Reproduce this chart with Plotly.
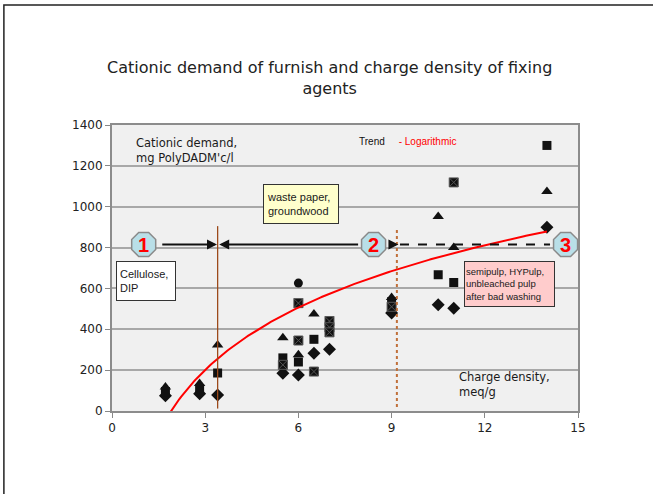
import numpy as np
import plotly.graph_objects as go

# Cationic demand of furnishes (mg PolyDADMAC/l) against charge density (meq/g)
diamond_x = [1.72, 2.82, 3.4, 5.5, 6.0, 6.5, 7.0, 9.0, 10.5, 11.0, 14.0]
diamond_y = [75, 85, 78, 185, 176, 283, 302, 480, 520, 503, 900]

square_x = [1.72, 2.82, 3.4, 5.5, 6.0, 6.5, 9.0, 10.5, 11.0, 14.0]
square_y = [95, 110, 186, 260, 240, 351, 535, 667, 629, 1300]

square_mark_x = [5.5, 6.0, 6.0, 6.5, 7.0, 7.0, 7.0, 9.0, 11.0]
square_mark_y = [226, 345, 528, 193, 440, 410, 385, 510, 1119]

triangle_x = [1.72, 2.82, 3.4, 5.5, 6.0, 6.5, 9.0, 10.5, 11.0, 14.0]
triangle_y = [118, 135, 323, 359, 275, 475, 555, 952, 800, 1075]

circle_x = [6.0]
circle_y = [626]

# Logarithmic trend: y = a*ln(x) + b
TREND_A = 440.0
TREND_B = -282.0
TREND_RANGE = [1.8, 14.0]

# Range boundaries between furnish groups and the numbered zones
boundary_x = [3.4, 9.17]
stage_labels = ["1", "2", "3"]
stage_x = [1.02, 8.42, 14.6]
stage_level = 815

x_ticks = [0, 3, 6, 9, 12, 15]
y_ticks = [0, 200, 400, 600, 800, 1000, 1200, 1400]

trend_x = np.linspace(TREND_RANGE[0], TREND_RANGE[1], 200)
trend_y = TREND_A * np.log(trend_x) + TREND_B

INK = "#111111"
fig = go.Figure()


def add_points(xs, ys, symbol, size, line_color=INK, line_width=0):
    fig.add_trace(go.Scatter(
        x=xs, y=ys, mode="markers", hoverinfo="skip",
        marker=dict(symbol=symbol, size=size, color=INK,
                    line=dict(color=line_color, width=line_width)),
    ))


add_points(diamond_x, diamond_y, "diamond", 10)
add_points(square_x, square_y, "square", 9)
add_points(square_mark_x, square_mark_y, "square-x", 9, "#555555", 1)
add_points(triangle_x, triangle_y, "triangle-up", 10)
add_points(circle_x, circle_y, "circle", 9)

fig.add_trace(go.Scatter(
    x=trend_x, y=trend_y, mode="lines", hoverinfo="skip",
    line=dict(color="#ff0000", width=2),
))

# Zone boundaries
fig.add_shape(type="line", x0=boundary_x[0], x1=boundary_x[0], y0=12, y1=905,
              line=dict(color="#9c4a1a", width=1.3))
fig.add_shape(type="line", x0=boundary_x[1], x1=boundary_x[1], y0=20, y1=900,
              line=dict(color="#c0703a", width=2, dash="dot"))

# Zone arrows
fig.add_shape(type="line", x0=boundary_x[1] + 0.1, x1=stage_x[2] - 0.5,
              y0=stage_level, y1=stage_level,
              line=dict(color=INK, width=2, dash="dash"))
arrow_defs = [
    (stage_x[0] + 0.55, boundary_x[0] - 0.02),
    (stage_x[1] - 0.45, boundary_x[0] + 0.05),
    (stage_x[1] + 0.45, boundary_x[1] + 0.05),
]
for x_from, x_to in arrow_defs:
    fig.add_annotation(x=x_to, y=stage_level, ax=x_from, ay=stage_level,
                       xref="x", yref="y", axref="x", ayref="y", text="",
                       showarrow=True, arrowhead=2, arrowsize=1.0,
                       arrowwidth=2, arrowcolor=INK)

# Numbered zone badges
fig.add_trace(go.Scatter(
    x=stage_x, y=[stage_level] * 3, mode="markers", cliponaxis=False, hoverinfo="skip",
    marker=dict(symbol="octagon", size=26, color="#b9dfe8",
                line=dict(color="#8a8a8a", width=1.5)),
))
for i, lab in enumerate(stage_labels):
    fig.add_annotation(x=stage_x[i], y=stage_level, text=f"<b>{lab}</b>",
                       showarrow=False,
                       font=dict(family="Liberation Sans, Arial", size=20, color="#ff0000"))

label_font = dict(family="DejaVu Sans", size=11.5, color="#1a1a1a")
box_font = dict(family="Liberation Sans, Arial", size=11, color="#1a1a1a")

fig.add_annotation(x=0.72, y=1355, xanchor="left", yanchor="top", align="left",
                   text="Cationic demand,<br>mg PolyDADM'c/l", showarrow=False,
                   font=label_font)
fig.add_annotation(x=11.1, y=210, xanchor="left", yanchor="top", align="left",
                   text="Charge density,<br>meq/g", showarrow=False, font=label_font)
fig.add_annotation(x=7.9, y=1355, xanchor="left", yanchor="top", align="left",
                   text="Trend&nbsp;&nbsp;&nbsp;&nbsp;&nbsp;<span style='color:#ff0000'>- Logarithmic</span>",
                   showarrow=False, font=dict(family="Liberation Sans, Arial", size=10, color="#111"))

fig.add_annotation(x=1.10, y=636, text="Cellulose,<br>DIP", showarrow=False,
                   align="left", width=52, height=32, bgcolor="#ffffff",
                   bordercolor="#333333", borderwidth=1, borderpad=3, font=box_font)
fig.add_annotation(x=6.07, y=1012, text="waste paper,<br>groundwood", showarrow=False,
                   align="left", width=68, height=32, bgcolor="#ffffcc",
                   bordercolor="#333333", borderwidth=1, borderpad=3, font=box_font)
fig.add_annotation(x=12.8, y=622, text="semipulp, HYPulp,<br>unbleached pulp<br>after bad washing",
                   showarrow=False, align="left", width=87, height=42, bgcolor="#ffcccc",
                   bordercolor="#333333", borderwidth=1, borderpad=1,
                   font=dict(family="Liberation Sans, Arial", size=9.5, color="#1a1a1a"))

# Chart title
fig.add_annotation(xref="paper", yref="paper", x=0.467, y=1.166,
                   text="Cationic demand of furnish and charge density of fixing<br>agents",
                   showarrow=False, xanchor="center", yanchor="middle",
                   font=dict(family="DejaVu Sans", size=16, color="#222222"))

# Outer chart frame
fig.add_shape(type="rect", xref="paper", yref="paper", x0=-0.232, x1=1.2, y0=-0.4, y1=1.42,
              line=dict(color="#222222", width=1.5), layer="below")

axis_font = dict(family="DejaVu Sans", size=12, color="#222222")
fig.update_layout(
    width=653, height=494,
    margin=dict(l=112, r=75, t=125, b=83),
    paper_bgcolor="#ffffff", plot_bgcolor="#f0f0f0",
    showlegend=False,
    xaxis=dict(range=[0, 15], tickvals=x_ticks, showgrid=False, zeroline=False,
               ticks="outside", ticklen=5, tickcolor="#888888", tickwidth=1,
               showline=True, linecolor="#8c8c8c", linewidth=2, mirror=True,
               tickfont=axis_font),
    yaxis=dict(range=[0, 1400], tickvals=y_ticks, showgrid=True, gridcolor="#a8a8a8",
               gridwidth=1.5, zeroline=False, ticks="outside", ticklen=5,
               tickcolor="#888888", showline=True, linecolor="#8c8c8c", linewidth=2,
               mirror=True, tickfont=axis_font),
)

fig.write_html("out.html")
